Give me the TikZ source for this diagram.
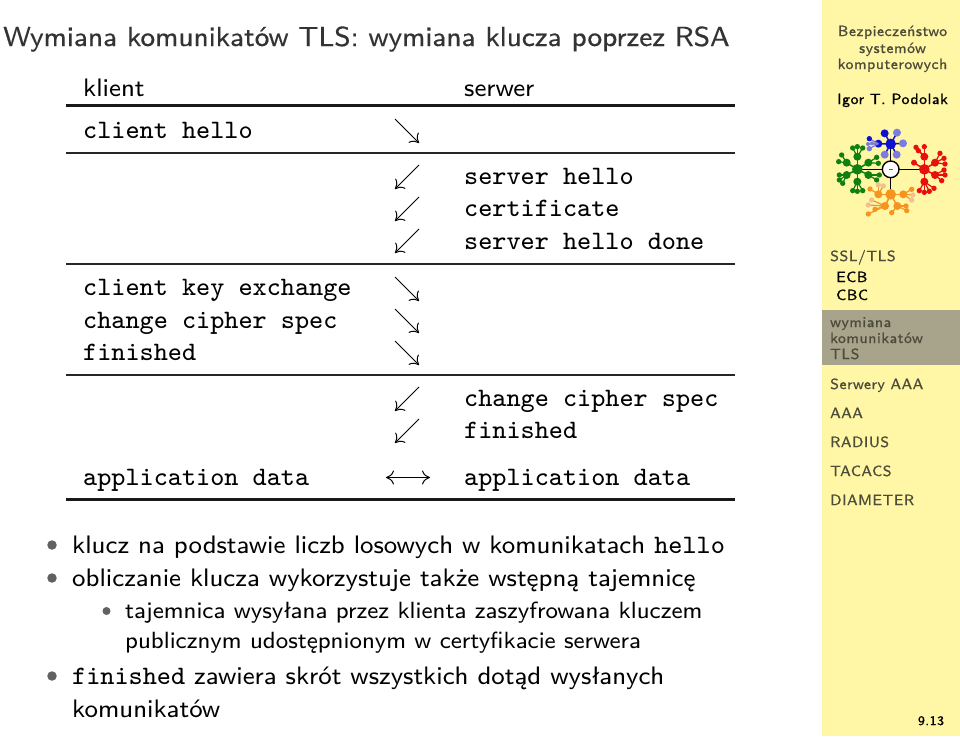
\documentclass[tikz,border=0pt]{standalone}
\usepackage{fontspec}
\usetikzlibrary{arrows.meta}
\newfontfamily\ssviii{lmsans8-regular.otf}
\newfontfamily\ttviii{lmmono8-regular.otf}
\newfontfamily\titlefont[FakeBold=0.15]{lmsans8-regular.otf}
\newfontfamily\sidefont[LetterSpace=4,FakeBold=0.9]{lmsans8-regular.otf}
\definecolor{sidebg}{HTML}{FFF6A6}
\definecolor{sidehl}{HTML}{A8A48C}
\definecolor{sidetx}{HTML}{4C4C3A}
\definecolor{titlec}{HTML}{333333}
\definecolor{lgreen}{HTML}{0F7F0F}
\definecolor{lred}{HTML}{E80F0F}
\definecolor{lblue}{HTML}{1010D0}
\definecolor{lblue2}{HTML}{7C7CE0}
\definecolor{lor}{HTML}{F59420}
\definecolor{lor2}{HTML}{F2C08C}
\tikzset{
 x=1pt,y=-1pt,
 tt/.style={anchor=base west,inner sep=0pt,font=\fontsize{26.6}{30}\ttviii},
 ss/.style={anchor=base west,inner sep=0pt,font=\fontsize{25.3}{30}\ssviii},
 sm/.style={anchor=base west,inner sep=0pt,font=\fontsize{23.45}{30}\ssviii},
 sidebase/.style={inner sep=0pt,font=\fontsize{14.8}{18}\sidefont},
 side/.style={sidebase,anchor=base west,text=sidetx},
 sidec/.style={sidebase,anchor=base,text=sidetx},
 rulethin/.style={line width=2pt,draw=black!85},
 rulethick/.style={line width=3pt,draw=black!90},
 arr/.style={line width=1pt,-{Computer Modern Rightarrow[length=8pt,width=14pt]}},
 arrb/.style={line width=1pt,{Computer Modern Rightarrow[length=8pt,width=14pt]}-{Computer Modern Rightarrow[length=8pt,width=14pt]}},
 bul/.style={circle,inner sep=0pt,minimum size=9.5pt,fill=black!62},
 bulsm/.style={circle,inner sep=0pt,minimum size=8pt,fill=black!62},
}
\newcommand{\da}[2]{\coordinate (s) at (#1,#2); \coordinate (e) at (#1+24,#2+24); \draw[arr] (s) -- (e);}
\newcommand{\ua}[2]{\coordinate (s) at (#1+24,#2); \coordinate (e) at (#1,#2+24); \draw[arr] (s) -- (e);}
\begin{document}
\begin{tikzpicture}
\useasboundingbox (0,0) rectangle (960,736);
\fill[white] (0,0) rectangle (960,736);
% sidebar
\fill[sidebg] (822,0) rectangle (960,736);
\fill[sidehl] (822,310) rectangle (960,365);
\node[sidec] (s1) at (892.5,36) {Bezpieczeństwo};
\node[sidec] (s2) at (892.5,53) {systemów};
\node[sidec] (s3) at (892.5,69) {komputerowych};
\node[sidec,text=black] (s4) at (892.5,104) {Igor T. Podolak};
\node[side] (n1) at (830,261) {SSL/TLS};
\node[side,text=black] (n2) at (836,282) {ECB};
\node[side,text=black] (n3) at (836,300) {CBC};
\node[side] (n4) at (830,327) {wymiana};
\node[side] (n5) at (830,343) {komunikatów};
\node[side] (n6) at (830,359) {TLS};
\node[side] (n7) at (830,389) {Serwery AAA};
\node[side] (n8) at (830,418) {AAA};
\node[side] (n9) at (830,447) {RADIUS};
\node[side] (n10) at (830,476) {TACACS};
\node[side] (n11) at (830,505) {DIAMETER};
\node[sidec,text=black,font=\fontsize{13}{15}\sidefont] (pg) at (931,725) {9.13};
% logo
\begin{scope}[shift={(840,120)},x=.3333pt,y=-.3333pt]
 \draw[black,line width=1.6pt] (52,148) -- (253,148);
 \draw[black,line width=1.6pt] (152,72) -- (152,223);
 % blue
 \foreach \a/\b/\r/\c in {134/40/12/lblue,171/38/12/lblue2,189/70/12/lblue2,170/104/12/lblue2,134/104/12/lblue2,115/71/12/lblue}{\draw[lblue,line width=1.5pt] (152,72) -- (\a,\b); \fill[\c] (\a,\b) circle[radius=\r];}
 \foreach \a/\b/\r/\c in {88/56/8/lblue,96/70/6/lblue2,88/86/8/lblue2,84/72/6/lblue2}{\draw[lblue2,line width=1.2pt] (115,71) -- (\a,\b); \fill[\c] (\a,\b) circle[radius=\r];}
 \fill[lblue] (152,72) circle[radius=16];
 % green
 \foreach \a/\b/\r in {20/128/12,20/165/12,52/110/12,85/128/12,85/165/12,52/185/12}{\draw[lgreen,line width=1.5pt] (52,148) -- (\a,\b); \fill[lgreen] (\a,\b) circle[radius=\r];}
 \foreach \pa/\pb/\a/\b in {52/110/52/80,52/110/68/84,52/110/38/84,20/128/5/105,20/128/-4/125,85/128/110/112,85/128/115/130,85/165/110/180,85/165/118/165,52/185/38/212,52/185/52/214,52/185/68/212,20/165/-2/165,20/165/-2/180,20/165/8/190}{\draw[lgreen,line width=1.2pt] (\pa,\pb) -- (\a,\b); \fill[lgreen] (\a,\b) circle[radius=8];}
 \fill[lgreen] (52,148) circle[radius=16];
 % red
 \foreach \a/\b/\r in {253/110/12,285/128/12,285/165/12,253/185/12,222/128/9}{\draw[lred,line width=1.5pt] (253,148) -- (\a,\b); \fill[lred] (\a,\b) circle[radius=\r];}
 \foreach \pa/\pb/\a/\b in {253/110/235/92,253/110/253/80,253/110/228/82,285/128/300/100,285/128/312/115,285/128/315/132,285/165/315/165,285/165/312/150,285/165/305/182,253/185/238/212,253/185/253/217,253/185/268/214,253/185/282/205}{\draw[lred,line width=1.2pt] (\pa,\pb) -- (\a,\b); \fill[lred] (\a,\b) circle[radius=8];}
 \fill[lred] (253,148) circle[radius=16];
 % orange
 \foreach \a/\b/\r in {115/223/12,190/223/12,135/258/12,172/258/12}{\draw[lor,line width=1.5pt] (152,223) -- (\a,\b); \fill[lor] (\a,\b) circle[radius=\r];}
 \foreach \pa/\pb/\a/\b/\c in {115/223/90/207/lor,115/223/115/195/lor2,115/223/130/198/lor2,190/223/215/208/lor,190/223/218/225/lor2,190/223/215/240/lor2,135/258/95/240/lor2,135/258/85/255/lor2,135/258/105/268/lor,135/258/85/282/lor,172/258/198/258/lor,172/258/200/272/lor,172/258/155/278/lor}{\draw[lor,line width=1.2pt] (\pa,\pb) -- (\a,\b); \fill[\c] (\a,\b) circle[radius=8];}
 \fill[lor] (152,223) circle[radius=16];
 \draw[black,fill=white,line width=1.4pt] (152,148) circle[radius=25];
 \draw[black!60,line width=.3pt] (146,148) -- (158,148);
\end{scope}
% title
\node[anchor=base west,inner sep=0pt,text=titlec,font=\fontsize{27.6}{30}\titlefont] (title) at (3,46) {Wymiana komunikatów TLS: wymiana klucza poprzez RSA};
% table
\node[ss] (kl) at (83,96) {klient};
\node[ss] (sv) at (464,96) {serwer};
\draw[rulethick] (66,105.5) -- (735,105.5);
\node[tt] (a1) at (83,138) {client hello};
\da{395}{119}
\draw[rulethin] (66,152.5) -- (735,152.5);
\ua{395}{165}\ua{395}{197}\ua{395}{229}
\node[tt] (b1) at (464,184) {server hello};
\node[tt] (b2) at (464,216) {certificate};
\node[tt] (b3) at (464,249) {server hello done};
\draw[rulethin] (66,264) -- (735,264);
\da{395}{277}\da{395}{309}\da{395}{341}
\node[tt] (c1) at (83,295) {client key exchange};
\node[tt] (c2) at (83,328) {change cipher spec};
\node[tt] (c3) at (83,360) {finished};
\draw[rulethin] (66,375) -- (735,375);
\ua{395}{387}\ua{395}{419}
\node[tt] (d1) at (464,406) {change cipher spec};
\node[tt] (d2) at (464,438) {finished};
\node[tt] (e1) at (83,485) {application data};
\node[tt] (e2) at (464,485) {application data};
\coordinate (as) at (386,477.5); \coordinate (ae) at (430,477.5);
\draw[arrb] (as) -- (ae);
\draw[rulethick] (66,499.5) -- (735,499.5);
% list
\node[bul] (u1) at (52,545) {};
\node[ss] (l1) at (72,553) {klucz na podstawie liczb losowych w komunikatach {\fontsize{26.6}{30}\ttviii hello}};
\node[bul] (u2) at (52,578) {};
\node[ss] (l2) at (72,586) {obliczanie klucza wykorzystuje także wstępną tajemnicę};
\node[bulsm] (u3) at (106.5,611) {};
\node[sm] (l3) at (125,618) {tajemnica wysyłana przez klienta zaszyfrowana kluczem};
\node[sm] (l4) at (125,648) {publicznym udostępnionym w certyfikacie serwera};
\node[bul] (u4) at (52,676) {};
\node[ss] (l5) at (72,684) {{\fontsize{26.6}{30}\ttviii finished} zawiera skrót wszystkich dotąd wysłanych};
\node[ss] (l6) at (72,717) {komunikatów};
\end{tikzpicture}
\end{document}
